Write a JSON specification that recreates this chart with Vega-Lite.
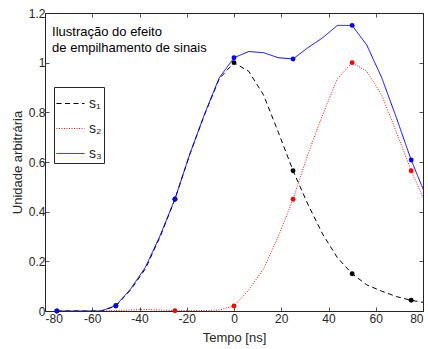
{
  "$schema": "https://vega.github.io/schema/vega-lite/v6.json",
  "width": 378,
  "height": 298,
  "autosize": {"type": "none"},
  "padding": {"left": 45, "top": 13, "right": 5, "bottom": 38},
  "background": "white",
  "config": {
    "font": "Liberation Sans",
    "view": {"stroke": "#262626", "strokeWidth": 1},
    "axis": {
      "domain": false,
      "grid": false,
      "tickSize": -4,
      "tickColor": "#262626",
      "tickWidth": 0.8,
      "labelColor": "#262626",
      "labelFontSize": 12,
      "labelFont": "Liberation Sans",
      "titleFont": "Liberation Sans",
      "titleFontSize": 13,
      "titleFontWeight": "normal",
      "titleColor": "#262626"
    },
    "legend": {
      "strokeColor": "#262626",
      "fillColor": "white",
      "padding": 2,
      "symbolType": "stroke",
      "symbolSize": 784,
      "symbolStrokeWidth": 1,
      "labelFontSize": 14,
      "labelFont": "Liberation Sans",
      "labelColor": "#262626",
      "labelOffset": 4,
      "rowPadding": 3
    }
  },
  "datasets": {
    "curves": [
      {"series": "s₁", "t": -75, "v": 0},
      {"series": "s₁", "t": -68.75, "v": 0},
      {"series": "s₁", "t": -62.5, "v": 0},
      {"series": "s₁", "t": -56.25, "v": 0},
      {"series": "s₁", "t": -50, "v": 0.02},
      {"series": "s₁", "t": -43.75, "v": 0.085},
      {"series": "s₁", "t": -37.5, "v": 0.17},
      {"series": "s₁", "t": -31.25, "v": 0.3},
      {"series": "s₁", "t": -25, "v": 0.45},
      {"series": "s₁", "t": -18.75, "v": 0.63},
      {"series": "s₁", "t": -12.5, "v": 0.79},
      {"series": "s₁", "t": -6.25, "v": 0.935},
      {"series": "s₁", "t": 0, "v": 1.0},
      {"series": "s₁", "t": 6.25, "v": 0.965},
      {"series": "s₁", "t": 12.5, "v": 0.87},
      {"series": "s₁", "t": 18.75, "v": 0.72},
      {"series": "s₁", "t": 25, "v": 0.565},
      {"series": "s₁", "t": 31.25, "v": 0.43},
      {"series": "s₁", "t": 37.5, "v": 0.31},
      {"series": "s₁", "t": 43.75, "v": 0.215},
      {"series": "s₁", "t": 50, "v": 0.15},
      {"series": "s₁", "t": 56.25, "v": 0.105},
      {"series": "s₁", "t": 62.5, "v": 0.08},
      {"series": "s₁", "t": 68.75, "v": 0.058},
      {"series": "s₁", "t": 75, "v": 0.043},
      {"series": "s₁", "t": 81.25, "v": 0.033},
      {"series": "s₂", "t": -56.25, "v": 0},
      {"series": "s₂", "t": -50, "v": 0.002},
      {"series": "s₂", "t": -43.75, "v": 0.004},
      {"series": "s₂", "t": -37.5, "v": 0.006},
      {"series": "s₂", "t": -31.25, "v": 0.004},
      {"series": "s₂", "t": -25, "v": 0.001},
      {"series": "s₂", "t": -18.75, "v": 0.001},
      {"series": "s₂", "t": -12.5, "v": 0.002},
      {"series": "s₂", "t": -6.25, "v": 0.004},
      {"series": "s₂", "t": 0, "v": 0.02},
      {"series": "s₂", "t": 6.25, "v": 0.085},
      {"series": "s₂", "t": 12.5, "v": 0.17},
      {"series": "s₂", "t": 18.75, "v": 0.3},
      {"series": "s₂", "t": 25, "v": 0.45},
      {"series": "s₂", "t": 31.25, "v": 0.63},
      {"series": "s₂", "t": 37.5, "v": 0.79},
      {"series": "s₂", "t": 43.75, "v": 0.935},
      {"series": "s₂", "t": 50, "v": 1.0},
      {"series": "s₂", "t": 56.25, "v": 0.965},
      {"series": "s₂", "t": 62.5, "v": 0.87},
      {"series": "s₂", "t": 68.75, "v": 0.72},
      {"series": "s₂", "t": 75, "v": 0.565},
      {"series": "s₂", "t": 81.25, "v": 0.43},
      {"series": "s₃", "t": -75, "v": 0},
      {"series": "s₃", "t": -68.75, "v": 0},
      {"series": "s₃", "t": -62.5, "v": 0},
      {"series": "s₃", "t": -56.25, "v": 0},
      {"series": "s₃", "t": -50, "v": 0.022},
      {"series": "s₃", "t": -43.75, "v": 0.089},
      {"series": "s₃", "t": -37.5, "v": 0.176},
      {"series": "s₃", "t": -31.25, "v": 0.304},
      {"series": "s₃", "t": -25, "v": 0.451},
      {"series": "s₃", "t": -18.75, "v": 0.631},
      {"series": "s₃", "t": -12.5, "v": 0.792},
      {"series": "s₃", "t": -6.25, "v": 0.939},
      {"series": "s₃", "t": 0, "v": 1.02},
      {"series": "s₃", "t": 6.25, "v": 1.045},
      {"series": "s₃", "t": 12.5, "v": 1.04},
      {"series": "s₃", "t": 18.75, "v": 1.02},
      {"series": "s₃", "t": 25, "v": 1.015},
      {"series": "s₃", "t": 31.25, "v": 1.06},
      {"series": "s₃", "t": 37.5, "v": 1.1},
      {"series": "s₃", "t": 43.75, "v": 1.15},
      {"series": "s₃", "t": 50, "v": 1.15},
      {"series": "s₃", "t": 56.25, "v": 1.07},
      {"series": "s₃", "t": 62.5, "v": 0.94},
      {"series": "s₃", "t": 68.75, "v": 0.778},
      {"series": "s₃", "t": 75, "v": 0.608},
      {"series": "s₃", "t": 81.25, "v": 0.463}
    ],
    "notes": [
      {"t": -77, "v": 1.107, "label": "Ilustração do efeito"},
      {"t": -77, "v": 1.043, "label": "de empilhamento de sinais"}
    ]
  },
  "layer": [
    {
      "data": {"name": "curves"},
      "mark": {"type": "line", "clip": true, "strokeWidth": 1},
      "encoding": {
        "x": {
          "field": "t", "type": "quantitative",
          "scale": {"domain": [-80, 80], "nice": false, "zero": false},
          "axis": {"orient": "bottom", "title": "Tempo [ns]", "values": [-80, -60, -40, -20, 0, 20, 40, 60, 80], "labelExpr": "toString(datum.value)", "labelPadding": 6, "titlePadding": 7}
        },
        "y": {
          "field": "v", "type": "quantitative",
          "scale": {"domain": [0, 1.2], "nice": false},
          "axis": {"orient": "left", "title": "Unidade arbitrária", "values": [0, 0.2, 0.4, 0.6, 0.8, 1, 1.2], "format": "~g", "labelPadding": 4, "titlePadding": 4}
        },
        "color": {
          "field": "series", "type": "nominal",
          "scale": {"domain": ["s₁", "s₂", "s₃"], "range": ["#000000", "#ff0000", "#0000ff"]},
          "legend": {"orient": "none", "legendX": 9, "legendY": 74, "title": null}
        },
        "strokeDash": {
          "field": "series", "type": "nominal",
          "scale": {"domain": ["s₁", "s₂", "s₃"], "range": [[5, 3.5], [1, 1.5], [1, 0]]},
          "legend": {"orient": "none", "legendX": 9, "legendY": 74, "title": null}
        }
      }
    },
    {
      "data": {"name": "curves"},
      "transform": [
        {"filter": "datum.t % 25 === 0 && (datum.series !== 's₂' || datum.t >= -25)"}
      ],
      "mark": {"type": "circle", "size": 24, "opacity": 1},
      "encoding": {
        "x": {
          "field": "t", "type": "quantitative",
          "axis": {"orient": "top", "labels": false, "title": null, "values": [-80, -60, -40, -20, 0, 20, 40, 60, 80]}
        },
        "y": {
          "field": "v", "type": "quantitative",
          "axis": {"orient": "right", "labels": false, "title": null, "values": [0, 0.2, 0.4, 0.6, 0.8, 1, 1.2]}
        },
        "fill": {
          "field": "series", "type": "nominal",
          "scale": {"domain": ["s₁", "s₂", "s₃"], "range": ["#000000", "#ff0000", "#0000ff"]},
          "legend": null
        }
      }
    },
    {
      "data": {"name": "notes"},
      "mark": {"type": "text", "align": "left", "baseline": "alphabetic", "fontSize": 13, "font": "Liberation Sans", "color": "#000000"},
      "encoding": {
        "x": {"field": "t", "type": "quantitative", "axis": null},
        "y": {"field": "v", "type": "quantitative", "axis": null},
        "text": {"field": "label"}
      }
    }
  ],
  "resolve": {"axis": {"x": "independent", "y": "independent"}}
}
